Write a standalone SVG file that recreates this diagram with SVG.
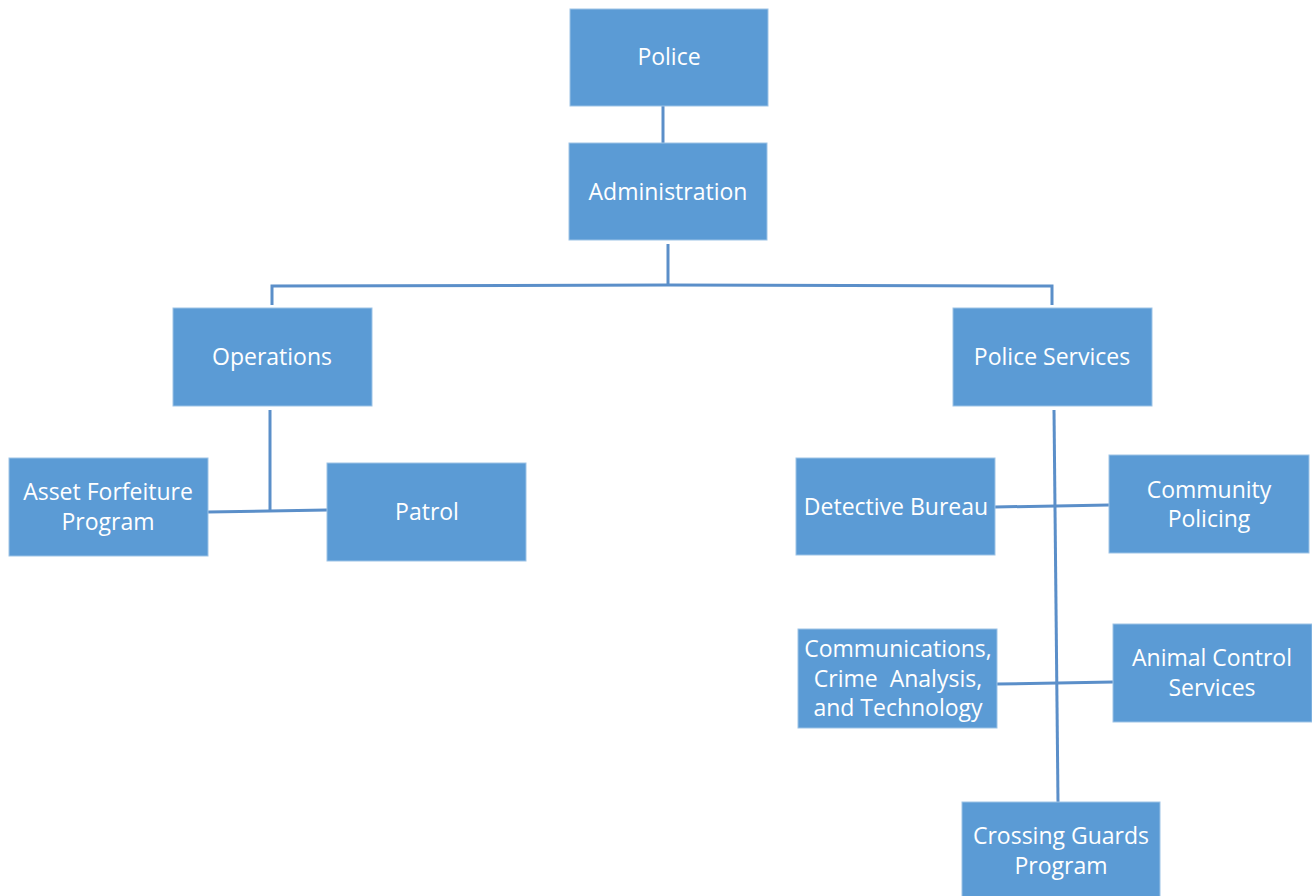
<svg xmlns="http://www.w3.org/2000/svg" width="1312" height="896" viewBox="0 0 1312 896">
<style>
.box{fill:#5B9BD5;stroke:#9DC3E6;stroke-width:1}
.t{font-family:"Open Sans","Liberation Sans",sans-serif;font-size:23px;fill:#ffffff;text-anchor:middle}
.c{fill:none;stroke:#5B8FC9;stroke-width:3}
</style>
<rect width="1312" height="896" fill="#ffffff"/>
<g id="connectors">
<line class="c" x1="663" y1="106" x2="663" y2="143"/>
<polyline class="c" points="668,244 668,285"/>
<polyline class="c" points="272,305 272,286 668,285 1052,286 1052,305"/>
<line class="c" x1="270" y1="410" x2="270" y2="512"/>
<line class="c" x1="208" y1="512" x2="327" y2="510"/>
<line class="c" x1="1054" y1="410" x2="1058" y2="802"/>
<line class="c" x1="995" y1="507" x2="1109" y2="505"/>
<line class="c" x1="997" y1="684" x2="1113" y2="682"/>
</g>
<g id="police"><rect class="box" x="570" y="9" width="198" height="97"/><text class="t" x="669" y="65">Police</text></g>
<g id="administration"><rect class="box" x="569" y="143" width="198" height="97"/><text class="t" x="668" y="200">Administration</text></g>
<g id="operations"><rect class="box" x="173" y="308" width="199" height="98"/><text class="t" x="272" y="365">Operations</text></g>
<g id="police-services"><rect class="box" x="953" y="308" width="199" height="98"/><text class="t" x="1052" y="365">Police Services</text></g>
<g id="asset-forfeiture"><rect class="box" x="9" y="458" width="199" height="98"/><text class="t" x="108" y="500">Asset Forfeiture</text><text class="t" x="108" y="530">Program</text></g>
<g id="patrol"><rect class="box" x="327" y="463" width="199" height="98"/><text class="t" x="427" y="520">Patrol</text></g>
<g id="detective-bureau"><rect class="box" x="796" y="458" width="199" height="97"/><text class="t" x="896" y="515">Detective Bureau</text></g>
<g id="community-policing"><rect class="box" x="1109" y="455" width="200" height="98"/><text class="t" x="1209" y="498">Community</text><text class="t" x="1209" y="527">Policing</text></g>
<g id="communications"><rect class="box" x="798" y="629" width="199" height="99"/><text class="t" x="898" y="657">Communications,</text><text class="t" x="898" y="687" xml:space="preserve">Crime  Analysis,</text><text class="t" x="898" y="716">and Technology</text></g>
<g id="animal-control"><rect class="box" x="1113" y="624" width="199" height="98"/><text class="t" x="1212" y="666">Animal Control</text><text class="t" x="1212" y="696">Services</text></g>
<g id="crossing-guards"><rect class="box" x="962" y="802" width="198" height="98"/><text class="t" x="1061" y="844">Crossing Guards</text><text class="t" x="1061" y="874">Program</text></g>
</svg>
